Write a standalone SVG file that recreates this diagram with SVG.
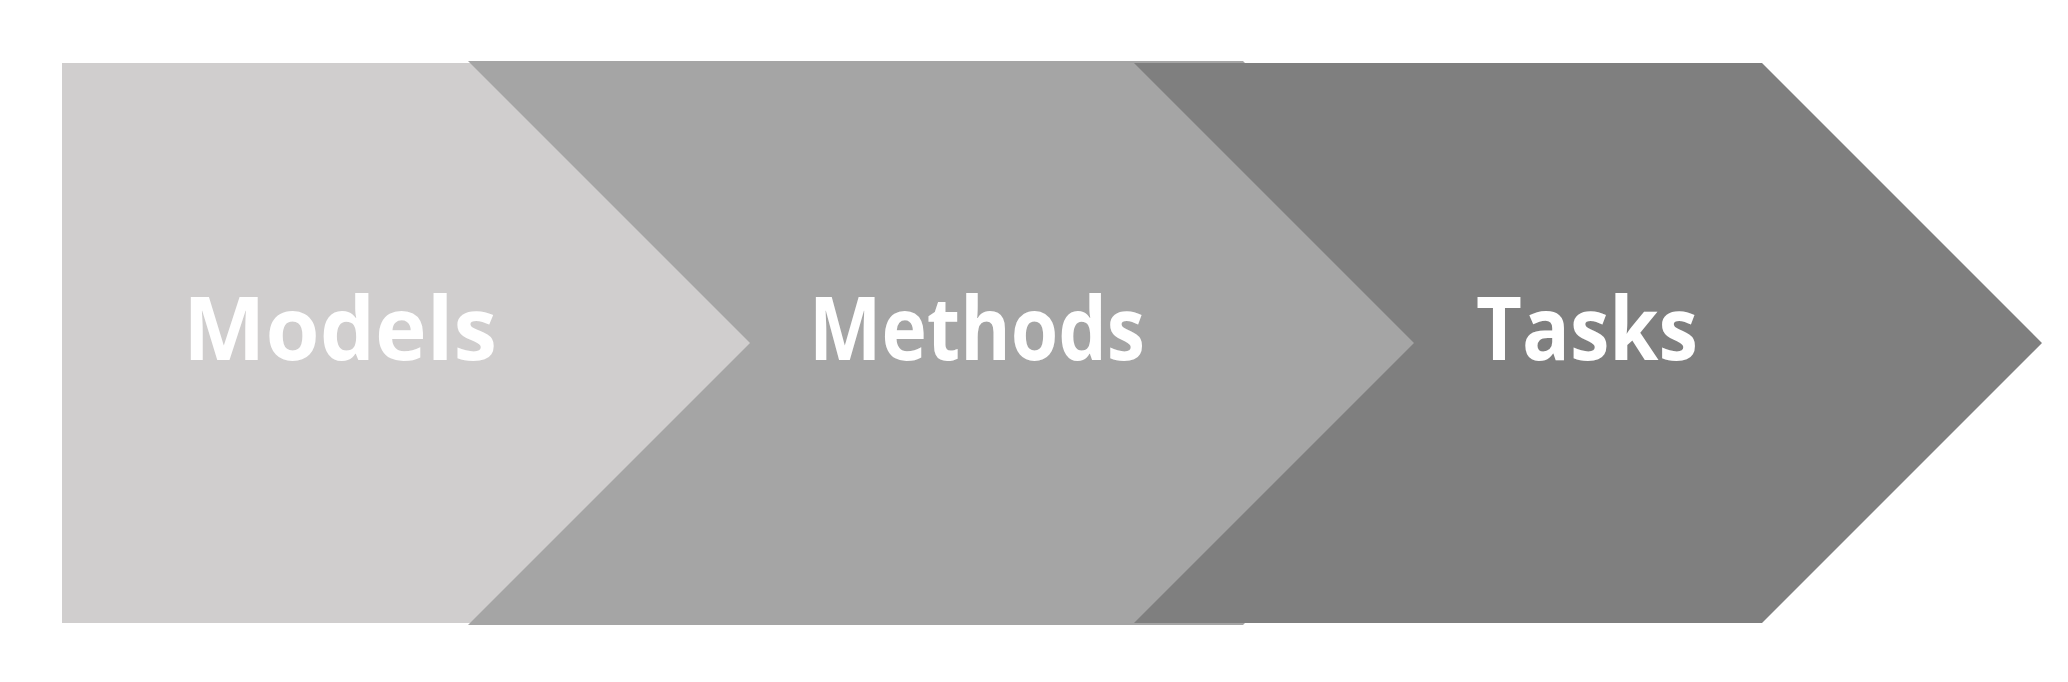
<svg xmlns="http://www.w3.org/2000/svg" width="2068" height="682" viewBox="0 0 2068 682">
  <style>
    .lbl { font-family: "Open Sans", Lato, "Liberation Sans", sans-serif; font-weight: bold; font-size: 87px; fill: #FFFFFF; text-anchor: middle; }
  </style>
  <rect x="0" y="0" width="2068" height="682" fill="#FFFFFF"/>
  <g id="models">
    <polygon points="62,63 480,63 760,343 480,623 62,623" fill="#D0CECE"/>
    <text class="lbl" x="340" y="360" textLength="314" lengthAdjust="spacingAndGlyphs">Models</text>
  </g>
  <g id="methods">
    <polygon points="468,61 1243,61 1525,343 1243,625 468,625 750,343" fill="#A5A5A5"/>
    <text class="lbl" x="977" y="360" textLength="336" lengthAdjust="spacingAndGlyphs">Methods</text>
  </g>
  <g id="tasks">
    <polygon points="1134,63 1762,63 2042,343 1762,623 1134,623 1414,343" fill="#7F7F7F"/>
    <text class="lbl" x="1587" y="360" textLength="222" lengthAdjust="spacingAndGlyphs">Tasks</text>
  </g>
</svg>
